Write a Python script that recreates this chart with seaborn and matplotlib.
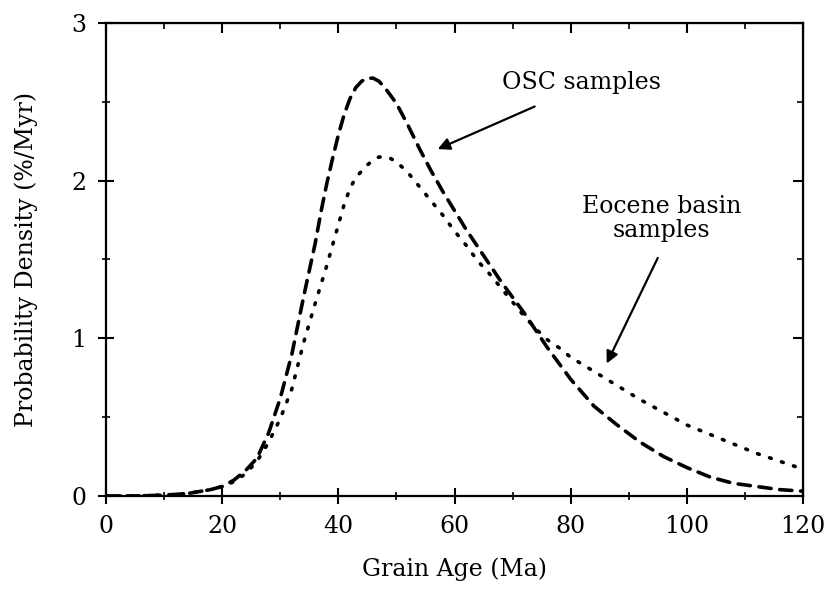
"""Probability density of grain ages: OSC vs Eocene basin samples."""
import matplotlib
matplotlib.use("Agg")
import matplotlib.pyplot as plt
from matplotlib.ticker import MultipleLocator
import pandas as pd
import seaborn as sns

sns.set_style("ticks")
plt.rcParams["font.family"] = ["DejaVu Serif"]
plt.rcParams["font.size"] = 17
plt.rcParams.update({"text.color": "black", "axes.labelcolor": "black",
                     "xtick.color": "black", "ytick.color": "black",
                     "axes.edgecolor": "black"})

# grain age (Ma) and probability density (%/Myr)
osc_age = [0, 5, 10, 14, 18, 20, 22, 24, 26, 28, 30, 32, 34, 36, 37, 38, 39, 40,
           41, 42, 43, 44, 45, 46, 47, 48, 50, 52, 54, 56, 58, 60, 62, 64, 66, 68,
           70, 72, 74, 76, 78, 80, 84, 88, 92, 96, 100, 104, 108, 112, 116, 120]
osc_dens = [0.0, 0.0, 0.005, 0.015, 0.04, 0.06, 0.10, 0.16, 0.24, 0.40, 0.62, 0.90,
            1.26, 1.60, 1.80, 1.98, 2.14, 2.29, 2.42, 2.52, 2.59, 2.63, 2.65, 2.65,
            2.63, 2.59, 2.49, 2.35, 2.20, 2.06, 1.93, 1.81, 1.69, 1.58, 1.47, 1.36,
            1.26, 1.16, 1.05, 0.94, 0.84, 0.74, 0.57, 0.45, 0.34, 0.25, 0.18, 0.12,
            0.08, 0.06, 0.04, 0.03]

eoc_age = [0, 5, 10, 14, 18, 20, 22, 24, 26, 28, 30, 32, 34, 36, 38, 40, 41, 42,
           43, 44, 45, 46, 47, 48, 49, 50, 52, 54, 56, 58, 60, 62, 64, 66, 68, 70,
           72, 74, 76, 78, 80, 84, 88, 92, 96, 100, 104, 108, 112, 116, 120]
eoc_dens = [0.0, 0.0, 0.005, 0.015, 0.04, 0.06, 0.09, 0.14, 0.22, 0.34, 0.49, 0.68,
            0.97, 1.22, 1.46, 1.72, 1.85, 1.95, 2.02, 2.06, 2.10, 2.13, 2.15, 2.15,
            2.14, 2.12, 2.05, 1.96, 1.87, 1.78, 1.68, 1.59, 1.49, 1.41, 1.32, 1.23,
            1.14, 1.06, 0.99, 0.94, 0.88, 0.79, 0.70, 0.61, 0.53, 0.45, 0.39, 0.33,
            0.27, 0.22, 0.17]

osc = pd.DataFrame({"age": osc_age, "dens": osc_dens})
eoc = pd.DataFrame({"age": eoc_age, "dens": eoc_dens})

fig = plt.figure(figsize=(8.31, 5.89), dpi=100)
ax = fig.add_axes([0.1276, 0.158, 0.8387, 0.803])

sns.lineplot(data=osc, x="age", y="dens", ax=ax, color="black", lw=2.6,
             dashes=False, linestyle=(0, (3.4, 2.4)))
sns.lineplot(data=eoc, x="age", y="dens", ax=ax, color="black", lw=2.6,
             dashes=False, linestyle=(0, (0.5, 3.0)))
for ln in ax.get_lines():
    ln.set_dash_capstyle("round")

ax.set_xlim(0, 120)
ax.set_ylim(0, 3)
ax.xaxis.set_major_locator(MultipleLocator(20))
ax.xaxis.set_minor_locator(MultipleLocator(10))
ax.yaxis.set_major_locator(MultipleLocator(1))
ax.yaxis.set_minor_locator(MultipleLocator(0.5))

for s in ax.spines.values():
    s.set_linewidth(1.6)
    s.set_visible(True)
    s.set_color("black")
ax.tick_params(which="major", direction="inout", length=12, width=1.5,
               labelsize=17, pad=8)
ax.tick_params(which="minor", direction="inout", length=6, width=1.2)

# top and right: ticks pointing inwards only
top = ax.secondary_xaxis("top")
top.xaxis.set_major_locator(MultipleLocator(20))
top.xaxis.set_minor_locator(MultipleLocator(10))
top.tick_params(which="major", direction="in", length=7, width=1.5, labeltop=False)
top.tick_params(which="minor", direction="in", length=4, width=1.2)
right = ax.secondary_yaxis("right")
right.yaxis.set_major_locator(MultipleLocator(1))
right.yaxis.set_minor_locator(MultipleLocator(0.5))
right.tick_params(which="major", direction="in", length=7, width=1.5, labelright=False)
right.tick_params(which="minor", direction="in", length=4, width=1.2)

ax.set_xlabel("Grain Age (Ma)", fontsize=17)
ax.set_ylabel("Probability Density (%/Myr)", fontsize=17)
ax.xaxis.set_label_coords(0.5, -0.13)
ax.yaxis.set_label_coords(-0.098, 0.5)

ax.text(81.8, 2.62, "OSC samples", ha="center", va="center", fontsize=17)
ax.annotate("", xy=(57.1, 2.20), xytext=(73.8, 2.47),
            arrowprops=dict(arrowstyle="-|>", color="black", lw=1.6,
                            mutation_scale=18, shrinkA=0, shrinkB=0))
ax.text(95.7, 1.76, "Eocene basin\nsamples", ha="center", va="center",
        fontsize=17, linespacing=1.1)
ax.annotate("", xy=(86.2, 0.84), xytext=(95.0, 1.51),
            arrowprops=dict(arrowstyle="-|>", color="black", lw=1.6,
                            mutation_scale=18, shrinkA=0, shrinkB=0))

fig.savefig("out.png", dpi=100)
